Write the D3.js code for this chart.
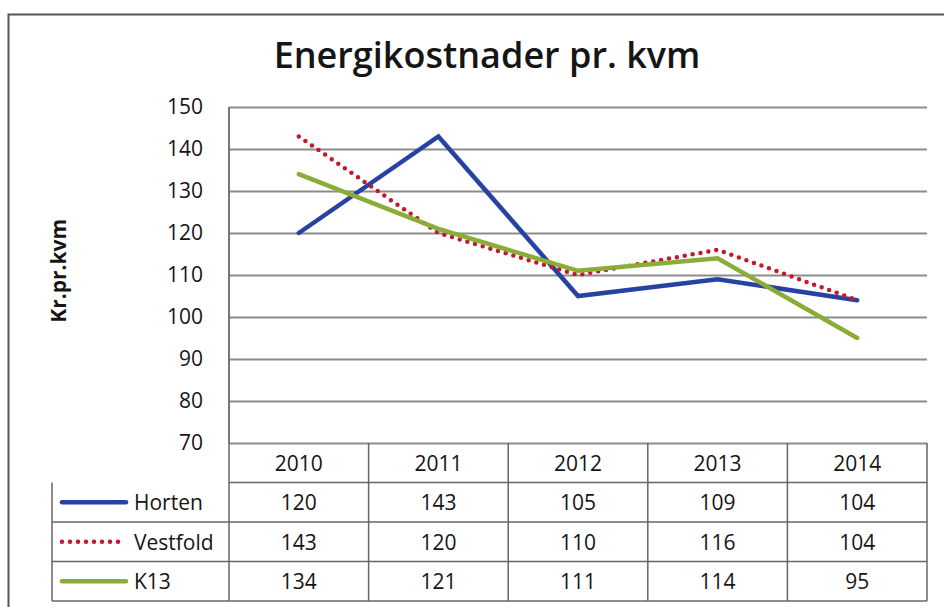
<!DOCTYPE html>
<html>
<head>
<meta charset="utf-8">
<script src="https://cdn.jsdelivr.net/npm/d3@7"></script>
<style>
  body { margin: 0; background: #fff; }
  text { font-family: "Open Sans", Lato, sans-serif; fill: #151515; }
</style>
</head>
<body>
<div id="chart"></div>
<script>
// data
const years = ['2010', '2011', '2012', '2013', '2014']
const horten = [120, 143, 105, 109, 104]
const vestfold = [143, 120, 110, 116, 104]
const k13 = [134, 121, 111, 114, 95]
const yTicks = [70, 80, 90, 100, 110, 120, 130, 140, 150]

const series = [
  { name: 'Horten', values: horten, color: '#2643a3', dash: null },
  { name: 'Vestfold', values: vestfold, color: '#c21a2c', dash: '0 8' },
  { name: 'K13', values: k13, color: '#8aad38', dash: null },
]

/** Set chart design */
var width = 944,
  height = 607

var svg = d3.select('#chart').append('svg')
  .attr('width', width)
  .attr('height', height)

// outer frame
svg.append('rect')
  .attr('x', 8.5).attr('y', 14.5)
  .attr('width', 950).attr('height', 620)
  .style('fill', 'none')
  .style('stroke', '#555')
  .style('stroke-width', 2)

svg.append('text')
  .attr('x', 487)
  .attr('y', 68)
  .attr('text-anchor', 'middle')
  .attr('font-size', '36px')
  .attr('font-weight', 600)
  .text('Energikostnader pr. kvm')

var x = d3.scaleBand()
  .domain(years)
  .range([229, 927])

var y = d3.scaleLinear()
  .domain([70, 150])
  .range([443, 107])

// gridlines
var yAxis = d3.axisLeft(y)
  .tickValues(yTicks)
  .tickSize(-(927 - 229))
  .tickPadding(26)
  .tickFormat(d3.format('d'))

var ga = svg.append('g')
  .attr('transform', 'translate(229,0)')
  .call(yAxis)
ga.select('.domain').remove()
ga.selectAll('.tick line')
  .style('stroke', '#8c8c8c')
  .style('stroke-width', 2)
ga.selectAll('.tick text')
  .attr('font-size', '21px')
  .style('fill', '#151515')
  .style('font-family', '"Open Sans", sans-serif')

// left plot edge
svg.append('line')
  .attr('x1', 229).attr('x2', 229)
  .attr('y1', y(150)).attr('y2', y(70))
  .style('stroke', '#777').style('stroke-width', 2)

svg.append('text')
  .attr('transform', 'translate(66,' + y(111) + ') rotate(-90)')
  .attr('text-anchor', 'middle')
  .attr('font-size', '21px')
  .attr('font-weight', 'bold')
  .text('Kr.pr.kvm')

// lines
var line = d3.line()
  .x(function (d, i) { return x(years[i]) + x.bandwidth() / 2 })
  .y(function (d) { return y(d) })

series.forEach(function (s) {
  svg.append('path')
    .datum(s.values)
    .attr('d', line)
    .style('fill', 'none')
    .style('stroke', s.color)
    .style('stroke-width', 4.5)
    .style('stroke-linecap', 'round')
    .style('stroke-dasharray', s.dash)
})

// data table
var rows = d3.scaleBand()
  .domain(['header'].concat(series.map(function (s) { return s.name })))
  .range([443, 601])

var tg = svg.append('g')
  .style('stroke', '#666')
  .style('stroke-width', 1.5)

// horizontal lines
rows.domain().forEach(function (r, i) {
  tg.append('line')
    .attr('x1', i === 0 ? 229 : 52).attr('x2', 927)
    .attr('y1', rows(r) + rows.bandwidth()).attr('y2', rows(r) + rows.bandwidth())
})
tg.append('line')
  .attr('x1', 52).attr('x2', 52)
  .attr('y1', rows('Horten')).attr('y2', 601)
years.forEach(function (yr) {
  tg.append('line')
    .attr('x1', x(yr) + x.bandwidth()).attr('x2', x(yr) + x.bandwidth())
    .attr('y1', 443).attr('y2', 601)
})
tg.append('line')
  .attr('x1', 229).attr('x2', 229)
  .attr('y1', 443).attr('y2', 601)

years.forEach(function (yr) {
  svg.append('text')
    .attr('x', x(yr) + x.bandwidth() / 2)
    .attr('y', rows('header') + rows.bandwidth() / 2 + 8)
    .attr('text-anchor', 'middle')
    .attr('font-size', '21px')
    .text(yr)
})

series.forEach(function (s) {
  var cy = rows(s.name) + rows.bandwidth() / 2
  svg.append('line')
    .attr('x1', 62).attr('x2', 126)
    .attr('y1', cy).attr('y2', cy)
    .style('stroke', s.color)
    .style('stroke-width', 4.5)
    .style('stroke-linecap', 'round')
    .style('stroke-dasharray', s.dash)
  svg.append('text')
    .attr('x', 134)
    .attr('y', cy + 8)
    .attr('font-size', '21px')
    .text(s.name)
  s.values.forEach(function (v, i) {
    svg.append('text')
      .attr('x', x(years[i]) + x.bandwidth() / 2)
      .attr('y', cy + 8)
      .attr('text-anchor', 'middle')
      .attr('font-size', '21px')
      .text(v)
  })
})
</script>
</body>
</html>
